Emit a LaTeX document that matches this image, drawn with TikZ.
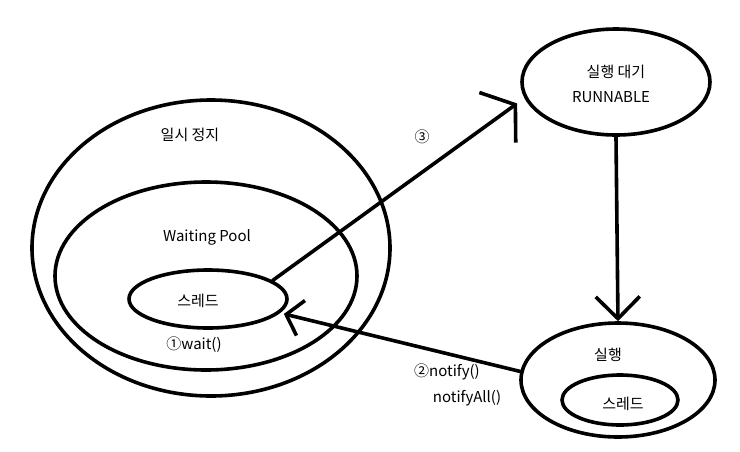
\documentclass[tikz,border=0pt]{standalone}
\usepackage{fontspec}
\setmainfont{Noto Sans CJK KR}
\usetikzlibrary{shapes.geometric,arrows.meta,calc}
\begin{document}
\begin{tikzpicture}[x=1pt,y=-1pt,
  ring/.style={draw=black,line width=3.6pt,ellipse,inner sep=0pt},
  lbl/.style={font=\fontsize{15}{17}\selectfont,inner sep=0pt,anchor=center},
  conn/.style={line width=3.6pt,line cap=round,line join=round}]
\useasboundingbox[fill=white] (0,0) rectangle (740,451);
% left group
\node[ring,minimum width=358pt,minimum height=296pt] (paused) at (211,248) {};
\node[ring,minimum width=302pt,minimum height=188pt] (pool) at (206,276) {};
\node[ring,minimum width=158pt,minimum height=58pt] (thread) at (208,299) {};
\node[lbl] (tpaused) at (190,135) {일시 정지};
\node[lbl] (tpool) at (207,237) {Waiting Pool};
\node[lbl] (tthread) at (198,301) {스레드};
\node[lbl] (twait) at (194,345) {①wait()};
% runnable
\node[ring,minimum width=188pt,minimum height=106pt] (runnable) at (616,82) {};
\node[lbl] (trun1) at (616,72) {실행 대기};
\node[lbl] (trun2) at (611,97) {RUNNABLE};
% running
\node[ring,minimum width=194pt,minimum height=114pt] (running) at (618,380) {};
\node[ring,minimum width=116pt,minimum height=50pt] (thread2) at (620,400) {};
\node[lbl] (trunning) at (608,355) {실행};
\node[lbl] (tthread2) at (623,404) {스레드};
% labels
\node[lbl] (t3) at (422,137) {③};
\node[lbl] (tnotify) at (447,372) {②notify()};
\node[lbl] (tnotifyall) at (467,398) {notifyAll()};
% arrows
\draw[conn,-{Straight Barb[length=22pt,width=62pt]},shorten >=9pt] (thread.16) -- (runnable.190);
\draw[conn,-{Straight Barb[length=22pt,width=44pt]}] (runnable.south) -- (running.north);
\draw[conn,-{Straight Barb[length=15pt,width=36pt]},shorten >=4pt] (running.175) -- (thread.349);
\end{tikzpicture}
\end{document}
